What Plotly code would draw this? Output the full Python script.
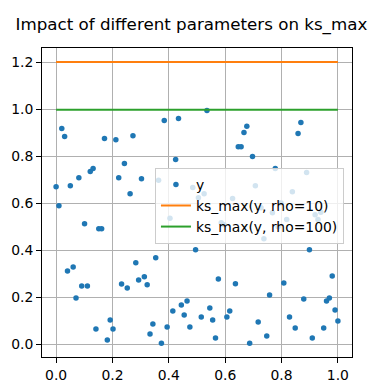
import numpy as np
import plotly.graph_objects as go

# data
x_values = np.linspace(0, 1, 100)
y_values = [
    0.670, 0.589, 0.917, 0.883, 0.311, 0.674, 0.328, 0.196, 0.708, 0.247,
    0.512, 0.247, 0.734, 0.747, 0.064, 0.491, 0.491, 0.875, 0.017, 0.102,
    0.064, 0.870, 0.708, 0.256, 0.768, 0.239, 0.640, 0.887, 0.346, 0.273,
    0.704, 0.286, 0.252, 0.043, 0.085, 0.367, 0.697, 0.004, 0.951, 0.073,
    0.535, 0.141, 0.785, 0.960, 0.166, 0.124, 0.183, 0.073, 0.666, 0.401,
    0.623, 0.115, 0.640, 0.994, 0.154, 0.102, 0.026, 0.277, 0.516, 0.508,
    0.115, 0.141, 0.619, 0.257, 0.840, 0.840, 0.900, 0.927, 0.004, 0.798,
    0.674, 0.094, 0.580, 0.448, 0.034, 0.209, 0.559, 0.747, 0.499, 0.600,
    0.260, 0.530, 0.115, 0.648, 0.068, 0.896, 0.943, 0.192, 0.730, 0.401,
    0.026, 0.550, 0.530, 0.561, 0.068, 0.183, 0.196, 0.290, 0.145, 0.098,
]
line_x = [0.0, 1.0]
ks_rho10 = 1.2
ks_rho100 = 0.997
x_ticks = [0.0, 0.2, 0.4, 0.6, 0.8, 1.0]
y_ticks = [0.0, 0.2, 0.4, 0.6, 0.8, 1.0, 1.2]

FONT = "DejaVu Sans"

fig = go.Figure()
fig.add_trace(go.Scatter(x=x_values, y=y_values, mode="markers", name="y",
                         marker=dict(color="#1f77b4", size=5.5)))
fig.add_trace(go.Scatter(x=line_x, y=[ks_rho10] * len(line_x), mode="lines",
                         name="ks_max(y, rho=10)",
                         line=dict(color="#ff7f0e", width=2)))
fig.add_trace(go.Scatter(x=line_x, y=[ks_rho100] * len(line_x), mode="lines",
                         name="ks_max(y, rho=100)",
                         line=dict(color="#2ca02c", width=2)))

axis_common = dict(showgrid=True, gridcolor="#b0b0b0", gridwidth=1,
                   showline=True, linecolor="black", linewidth=1, mirror=True,
                   ticks="outside", ticklen=5, tickcolor="black", tickwidth=1,
                   zeroline=False, tickformat=".1f", automargin=False,
                   tickfont=dict(family=FONT, size=13.9, color="black"))

# page has an 8px body margin, so the figure is sized to fit inside it
fig.update_layout(
    width=369, height=383,
    margin=dict(l=34, r=25, t=40, b=34, autoexpand=False),
    paper_bgcolor="white", plot_bgcolor="white",
    title=dict(text="Impact of different parameters on ks_max",
               font=dict(family=FONT, size=16.7, color="black"),
               x=0.482, xref="paper", xanchor="center",
               y=1 - 16 / 383, yref="container", yanchor="middle"),
    xaxis=dict(range=[-0.05, 1.05], tickvals=x_ticks, **axis_common),
    yaxis=dict(range=[-0.055, 1.26], tickvals=y_ticks, **axis_common),
    legend=dict(x=0.974, xanchor="right", y=0.612, yanchor="top",
                bgcolor="rgba(255,255,255,0.8)", bordercolor="#cccccc",
                borderwidth=1, font=dict(family=FONT, size=13.9, color="black"),
                tracegroupgap=0),
    showlegend=True,
)

fig.write_html("out.html")
